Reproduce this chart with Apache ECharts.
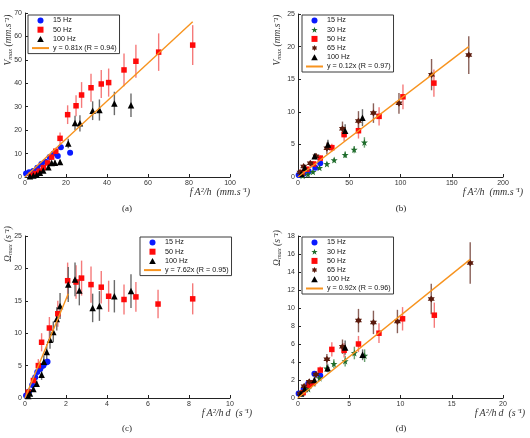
<!DOCTYPE html>
<html>
<head>
<meta charset="utf-8">
<script src="https://cdn.jsdelivr.net/npm/echarts@6/dist/echarts.min.js"></script>
<style>
  html, body { margin: 0; padding: 0; background: #fff; }
  #chart { width: 530px; height: 438px; }
</style>
</head>
<body>
<div id="chart"></div>
<script>
// data points: [x, y, error]
// (a) Vmax vs fA^2/h
const a15 = [[0.5,1.5,0.3],[2,2,0.3],[4,2.6,0.4],[6,4,0.5],[8,5.5,0.6],[10,6.5,0.7],[12,8.5,0.8],[14,10,0.9],[16,9,0.9],[17.5,12.7,1],[22,10.4,1]]
const a50 = [[3,0.8,0.3],[5,1.5,0.4],[7,2.5,0.5],[9,4,0.7],[11,6,1],[13,8.5,1.2],[15,11,1.5],[17.1,16.5,2.5],[20.8,26.6,4],[24.9,30.4,4.5],[27.6,35,5.5],[32.2,38.1,6],[37.2,39.7,6],[40.8,40.3,6],[48.3,45.7,7],[54.1,49.4,7],[65.2,53.3,8],[81.8,56.3,8.5]]
const a100 = [[2.4,0.3,0.2],[4.1,0.6,0.3],[5.7,1.0,0.3],[7.3,1.8,0.4],[8.9,2.8,0.5],[11.4,4.2,0.8],[13,6,1],[14.6,6.1,1],[17.1,6.4,1],[21.1,14.3,2],[24.4,23.1,3],[26.8,22.9,3.5],[33,28.3,4],[36.3,28.6,4.5],[43.6,31.4,5],[51.7,30.6,5]]
const aFit = [[0,0],[81.8,66.3]]

// (b) Vmax vs fA^2/h, all frequencies
const b15 = [[0.6,0.3,0.1],[5.5,0.5,0.1],[10.4,0.9,0.15],[16.9,1.4,0.2],[21.7,2.1,0.3]]
const b30 = [[4.5,0.2,0.1],[9.7,0.4,0.1],[14.6,0.8,0.15],[21,1.4,0.2],[28.2,2,0.3],[35.3,2.6,0.35],[46,3.4,0.5],[54.8,4.2,0.55],[64.8,5.3,0.8]]
const b50 = [[3.9,0.7,0.15],[8.7,1.2,0.2],[15.2,2,0.3],[21.7,2.9,0.4],[33,4.5,0.6],[45,6.5,1],[59,7.1,1.2],[79.1,9.3,1.4],[102.4,12.3,1.9],[132.6,14.4,2.1]]
const b65 = [[2,0.7,0.2],[5.5,1.6,0.3],[12,2.1,0.35],[17.5,3.2,0.45],[28.2,4.4,0.9],[43.4,7.4,1.1],[59,8.6,1.5],[73.6,9.8,1.5],[98.5,11.3,1.6],[130.3,15.7,2.4],[166.6,18.7,2.9]]
const b100 = [[3.2,0.5,0.1],[6.5,1.4,0.2],[16.2,3.2,0.4],[29.2,5,0.7],[46,7.1,1],[62.9,9.1,1.3]]
const bFit = [[0,0],[166.6,20]]

// (c) Omega max vs fA^2/hd
const c15 = [[0.05,0.4,0.1],[0.2,1,0.2],[0.35,2,0.3],[0.5,3.2,0.4],[0.6,4,0.4],[0.75,4.5,0.5],[0.9,5,0.5],[1.05,5.5,0.5],[1.1,5.6,0.5]]
const c50 = [[0.16,0.9,0.3],[0.41,2.7,0.6],[0.65,5,1],[0.81,8.6,1.4],[1.19,10.8,1.7],[1.6,13,2],[2.08,18.1,2.8],[2.49,17.9,2.6],[2.76,18.5,2.7],[3.22,17.5,2.8],[3.72,17.1,2.5],[4.08,15.7,2.4],[4.83,15.2,2.3],[5.41,15.6,2.3],[6.49,14.5,2.2],[8.18,15.3,2.4]]
const c100 = [[0.16,0.3,0.2],[0.24,0.7,0.3],[0.41,1.4,0.4],[0.57,2.2,0.5],[0.81,3.6,0.8],[0.92,5.6,1],[1.06,7.1,1.2],[1.22,9,1.4],[1.38,10.2,1.6],[1.55,12.2,1.8],[1.71,14.2,2],[2.11,17.5,2.7],[2.44,18.3,2.6],[2.65,16.6,2.3],[3.3,13.9,2.2],[3.63,14.2,2.3],[4.36,15.7,2.5],[5.17,16.5,2.6]]
const cFit = [[0,0],[2.11,16.1]]

// (d) Omega max vs fA^2/hd, all frequencies
const d15 = [[0.06,0.5,0.1],[0.55,1,0.15],[1,1.6,0.2],[1.6,2.7,0.3],[2.17,2.5,0.3]]
const d30 = [[0.45,0.6,0.1],[1,1,0.15],[1.5,1.6,0.2],[2.1,2.2,0.3],[2.8,3.3,0.4],[3.5,3.8,0.5],[4.6,4.1,0.6],[5.5,5,0.7],[6.5,4.7,0.7]]
const d50 = [[0.5,0.6,0.15],[1.1,1.4,0.2],[1.5,1.7,0.25],[2.17,3.1,0.4],[3.3,5.4,0.8],[4.5,5.3,0.8],[5.9,6,0.9],[7.9,7.2,1.1],[10.2,8.8,1.3],[13.3,9.2,1.4]]
const d65 = [[0.2,0.5,0.1],[0.6,1.3,0.2],[1.1,1.8,0.3],[1.75,2.6,0.4],[2.82,4.3,0.6],[4.34,5.7,0.8],[5.9,8.6,1.3],[7.36,8.4,1.3],[9.7,8.5,1.3],[13,11,1.7],[16.8,15,2.3]]
const d100 = [[0.3,0.5,0.1],[0.65,1,0.15],[1.6,2,0.3],[2.9,3.3,0.45],[4.6,5.6,0.8],[6.3,4.8,0.6]]
const dFit = [[0,0],[16.8,15.4]]

// axis ranges [min, max, interval]
const xRanges = [[0,100,20],[0,200,50],[0,10,2],[0,20,5]]
const yRanges = [[0,70,10],[0,25,5],[0,25,5],[0,18,2]]
const fitNames = ['y = 0.81x (R = 0.94)','y = 0.12x (R = 0.97)','y = 7.62x (R = 0.95)','y = 0.92x (R = 0.96)']

const hexagram = 'path://M0,-10L2.9,-5L8.66,-5L5.8,0L8.66,5L2.9,5L0,10L-2.9,5L-8.66,5L-5.8,0L-8.66,-5L-2.9,-5Z'
const pentagram = 'path://M0,-10L2.35,-3.24L9.51,-3.09L3.8,1.24L5.88,8.09L0,4L-5.88,8.09L-3.8,1.24L-9.51,-3.09L-2.35,-3.24Z'
const square = 'path://M0,0H10V10H0Z'
const tri = 'path://M5,0L10,9L0,9Z'
const groupStyle = {
  '15 Hz': {color:'#0a1aff', err:'#5a66ff', symbol:'circle', size:6},
  '30 Hz': {color:'#1d6b2a', err:'#6aa070', symbol:pentagram, size:7},
  '50 Hz': {color:'#ff0a0a', err:'#f57a7a', symbol:square, size:5.5},
  '65 Hz': {color:'#5a1a0c', err:'#8a6058', symbol:hexagram, size:7},
  '100 Hz': {color:'#000000', err:'#6a6a6a', symbol:tri, size:6.5}
}

const panels = [
  {groups:[['15 Hz',a15],['50 Hz',a50],['100 Hz',a100]], fit:aFit},
  {groups:[['15 Hz',b15],['30 Hz',b30],['50 Hz',b50],['65 Hz',b65],['100 Hz',b100]], fit:bFit},
  {groups:[['15 Hz',c15],['50 Hz',c50],['100 Hz',c100]], fit:cFit},
  {groups:[['15 Hz',d15],['30 Hz',d30],['50 Hz',d50],['65 Hz',d65],['100 Hz',d100]], fit:dFit}
]

const grids = [
  {left:25, top:13, width:205, height:164},
  {left:298, top:14, width:205, height:163},
  {left:25, top:236, width:205, height:162},
  {left:298, top:236, width:205, height:162}
]
const legendPos = [[28,15],[302,15],[140,237],[302,237]]

let chart = echarts.init(document.getElementById('chart'))

function errorBars(data, idx, color) {
  return {
    type: 'custom',
    xAxisIndex: idx,
    yAxisIndex: idx,
    silent: true,
    z: 1,
    encode: {x: 0, y: 1},
    data: data,
    renderItem: (params, api) => {
      let x = api.value(0), y = api.value(1), e = api.value(2)
      let p1 = api.coord([x, y - e])
      let p2 = api.coord([x, y + e])
      return {
        type: 'line',
        shape: {x1: p1[0], y1: p1[1], x2: p2[0], y2: p2[1]},
        style: {stroke: color, lineWidth: 1.4}
      }
    }
  }
}

let series = []
let legends = []
panels.forEach((p, i) => {
  let items = []
  p.groups.forEach(([name, data]) => {
    let st = groupStyle[name]
    series.push(errorBars(data, i, st.err))
    series.push({
      name: name,
      type: 'scatter',
      xAxisIndex: i,
      yAxisIndex: i,
      symbol: st.symbol,
      symbolSize: st.size,
      itemStyle: {color: st.color, opacity: 1},
      z: 3,
      data: data.map(d => [d[0], d[1]])
    })
    items.push({name: name})
  })
  series.push({
    name: fitNames[i],
    type: 'line',
    xAxisIndex: i,
    yAxisIndex: i,
    showSymbol: false,
    lineStyle: {color: '#f7931e', width: 1.4},
    itemStyle: {color: '#f7931e'},
    z: 4,
    data: p.fit
  })
  items.push({name: fitNames[i], itemStyle: {opacity: 0, borderWidth: 0}})
  legends.push({
    data: items,
    orient: 'vertical',
    left: legendPos[i][0],
    top: legendPos[i][1],
    itemWidth: 17,
    itemHeight: 6,
    itemGap: 2.2,
    symbolKeepAspect: true,
    padding: [2, 3, 2, 3],
    borderColor: '#3a3a3a',
    borderWidth: 1,
    backgroundColor: '#fff',
    selectedMode: false,
    textStyle: {fontSize: 7.2, fontFamily: 'Liberation Sans', color: '#111', padding: [0, 0, 0, -1]}
  })
})

let axisCommon = {
  type: 'value',
  splitLine: {show: false},
  axisLine: {show: true, lineStyle: {color: '#222', width: 1}},
  axisTick: {show: true, inside: true, length: 3, lineStyle: {color: '#222'}},
  axisLabel: {fontSize: 7, fontFamily: 'Liberation Sans', color: '#333', margin: 3}
}

let xAxis = xRanges.map((r, i) => Object.assign({}, axisCommon, {gridIndex: i, min: r[0], max: r[1], interval: r[2]}))
let yAxis = yRanges.map((r, i) => Object.assign({}, axisCommon, {gridIndex: i, min: r[0], max: r[1], interval: r[2]}))

// axis names and panel labels
const serif = 'Liberation Serif'
function xName(text, right, top) {
  return {type: 'text', right: right, top: top, style: {text: text, font: 'italic 10px ' + serif, fill: '#333'}}
}
function yName(sym, unit, x, y) {
  return {
    type: 'text', x: x, y: y, rotation: Math.PI / 2,
    style: {
      text: '{m|' + sym + '}{s|max}{m| (' + unit + ')}',
      align: 'center', verticalAlign: 'middle',
      rich: {
        m: {font: 'italic 9.5px ' + serif, fill: '#333', verticalAlign: 'middle', lineHeight: 12},
        s: {font: 'italic 6.5px ' + serif, fill: '#333', verticalAlign: 'bottom', lineHeight: 12}
      }
    }
  }
}
function label(text, x, y) {
  return {type: 'text', x: x, y: y, style: {text: text, font: '9px ' + serif, fill: '#222', align: 'center', verticalAlign: 'middle'}}
}

let graphic = [
  xName('f\u2009A²/h  (mm.s⁻¹)', 280, 187),
  xName('f\u2009A²/h  (mm.s⁻¹)', 7, 187),
  xName('f\u2009A²/h\u2009d  (s⁻¹)', 278, 408),
  xName('f\u2009A²/h\u2009d  (s⁻¹)', 5, 408),
  yName('V', 'mm.s⁻¹', 8, 40),
  yName('V', 'mm.s⁻¹', 277, 40),
  yName('Ω', 's⁻¹', 8, 244),
  yName('Ω', 's⁻¹', 277, 248),
  label('(a)', 127, 209),
  label('(b)', 401, 209),
  label('(c)', 127, 429),
  label('(d)', 401, 429)
]

let option = {
  animation: false,
  backgroundColor: '#fff',
  grid: grids,
  xAxis: xAxis,
  yAxis: yAxis,
  legend: legends,
  graphic: graphic,
  series: series
}
chart.setOption(option)
</script>
</body>
</html>
